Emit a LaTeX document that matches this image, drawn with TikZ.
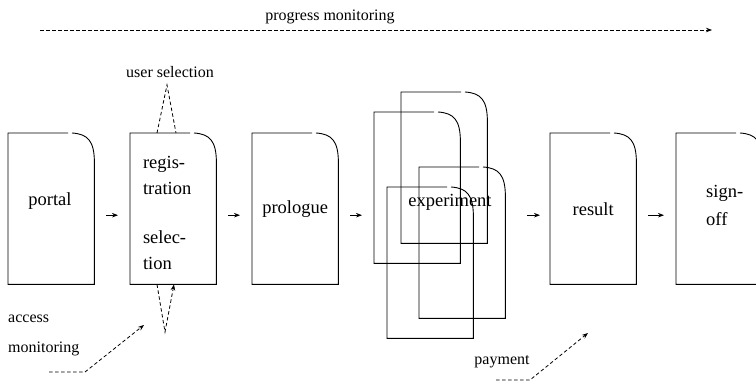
\documentclass[tikz,border=0pt]{standalone}
\usepackage{fontspec}
\setmainfont{Liberation Serif}
\usetikzlibrary{arrows.meta}
\newcommand\docoutline[1]{%
  \draw[boxline] ([xshift=60pt]#1.north west) -- (#1.north west) -- (#1.south west) -- (#1.south east) -- ([yshift=-30pt]#1.north east) .. controls +(0,-22) and +(16,1) .. ([xshift=64pt]#1.north west);
}
\begin{document}
\begin{tikzpicture}[x=1pt,y=-1pt,
  docbox/.style={draw=none, minimum width=86pt, minimum height=151pt, inner sep=0pt, anchor=north west, font=\fontsize{18.5}{26}\selectfont},
  boxtext/.style={inner sep=0pt, font=\fontsize{18.5}{26}\selectfont},
  boxline/.style={line width=0.9pt, line join=miter},
  tip/.style={-{Stealth[length=6pt,width=4.5pt]}},
  flow/.style={line width=0.8pt, tip, shorten <=12pt, shorten >=12pt},
  dashline/.style={line width=0.8pt, dash pattern=on 3.5pt off 2.5pt},
  note/.style={font=\fontsize{16}{30}\selectfont, inner sep=0pt},
]
\useasboundingbox (0,0) rectangle (756,382);

% boxes
\node[docbox] (portal) at (8,133) {};
\node[docbox] (reg) at (130,133) {};
\node[docbox] (prologue) at (252,133) {prologue};
\node[docbox] (expA) at (401,92) {};
\node[docbox] (expB) at (374,112) {};
\node[docbox] (expC) at (419,167) {};
\node[docbox] (expD) at (387,187) {};
\node[docbox] (result) at (550,133) {result};
\node[docbox] (signoff) at (676,133) {};

% box texts
\node[boxtext] (portaltext) at (50,201) {portal};
\node[boxtext, text width=60pt, align=left] (regtext) at (173,212.5) {regis-\\tration\\[23pt]selec-\\tion};
\node[boxtext, anchor=west, align=left, font=\fontsize{18.5}{28}\selectfont] (signofftext) at (706,205) {sign-\\off};
\node[boxtext] (exptext) at (450,202) {experiment};

\docoutline{portal}
\docoutline{reg}
\docoutline{prologue}
\docoutline{expA}
\docoutline{expB}
\docoutline{expC}
\docoutline{expD}
\docoutline{result}
\docoutline{signoff}

% flow arrows
\coordinate (c1) at ([yshift=-6.5pt]portal.east);
\coordinate (c2) at ([yshift=-6.5pt]prologue.east);
\coordinate (c3) at ([yshift=-6.5pt]result.west);
\coordinate (c4) at ([yshift=-6.5pt]result.east);
\draw[flow] (c1) -- (c1 -| reg.west);
\draw[flow] ([yshift=-6.5pt]reg.east) -- ([yshift=-6.5pt]prologue.west);
\draw[flow] (c2) -- (c2 -| expB.west);
\draw[flow, shorten <=22pt, shorten >=10pt] (c3 -| expC.east) -- (c3);
\draw[flow] (c4) -- (c4 -| signoff.west);

% progress monitoring
\node[note] (progress) at (330,17) {progress monitoring};
\coordinate (pstart) at (40,30);
\coordinate (pend) at (712,30);
\draw[dashline, tip] (pstart) -- (pend);

% user selection
\node[note] (usersel) at (170,72) {user selection};
\coordinate (utop) at (167,85);
\coordinate (ubot) at (165,332);
\draw[dashline] ([xshift=27pt]reg.north west) -- (utop) -- ([xshift=46pt]reg.north west);
\draw[dashline, tip] ([xshift=27pt]reg.south west) -- (ubot) -- ([xshift=44pt]reg.south west);

% access monitoring
\node[note, anchor=west, align=left] (access) at (8,335) {access\\monitoring};
\coordinate (a0) at (49,372);
\coordinate (a1) at (85,372);
\coordinate (a2) at (144,325);
\draw[dashline, tip] (a0) -- (a1) -- (a2);

% payment
\node[note] (payment) at (502,362) {payment};
\coordinate (b0) at (496,380);
\coordinate (b1) at (530,380);
\coordinate (b2) at (588,333);
\draw[dashline, tip] (b0) -- (b1) -- (b2);
\end{tikzpicture}
\end{document}
